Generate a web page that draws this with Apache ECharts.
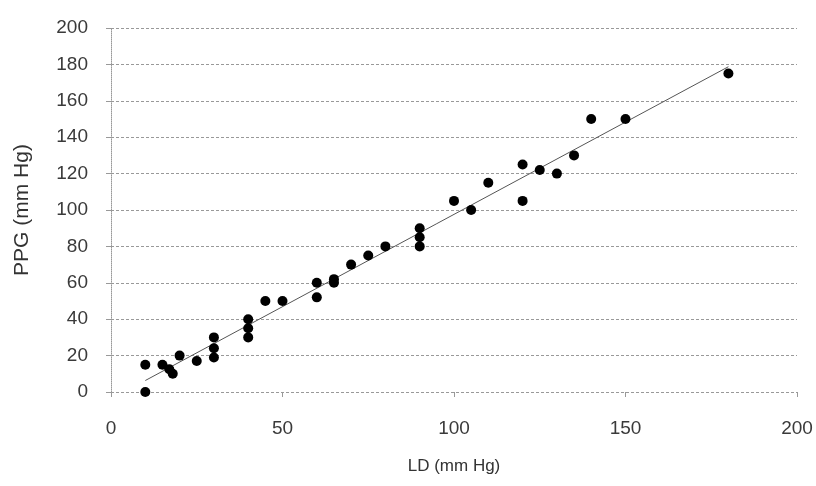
<!DOCTYPE html>
<html>
<head>
<meta charset="utf-8">
<script src="https://cdn.jsdelivr.net/npm/echarts@6/dist/echarts.min.js"></script>
<style>html,body{margin:0;padding:0;background:#fff}#c{width:816px;height:486px}</style>
</head>
<body>
<div id="c"></div>
<script>
// LD (mm Hg) values
const ld = [10,10,15,17,18,20,25,30,30,30,40,40,40,45,50,60,60,65,65,70,75,80,90,90,90,100,105,110,120,120,125,130,135,140,150,180];
// PPG (mm Hg) values
const ppg = [0,15,15,12.5,10,20,17,30,24,19,40,35,30,50,50,60,52,62,60,70,75,80,90,85,80,105,100,115,125,105,122,120,130,150,150,175];
const xTicks = [0,50,100,150,200];
const yTicks = [0,20,40,60,80,100,120,140,160,180,200];

const pts = ld.map((x,i)=>[x,ppg[i]]);
// least-squares trend line
const n = ld.length;
const mx = ld.reduce((a,b)=>a+b,0)/n, my = ppg.reduce((a,b)=>a+b,0)/n;
let sxy=0,sxx=0;
for(let i=0;i<n;i++){sxy+=(ld[i]-mx)*(ppg[i]-my);sxx+=(ld[i]-mx)*(ld[i]-mx);}
const slope=sxy/sxx, icpt=my-slope*mx;
const xmin=Math.min(...ld), xmax=Math.max(...ld);
const trend=[[xmin,icpt+slope*xmin],[xmax,icpt+slope*xmax]];

const chart = echarts.init(document.getElementById('c'));
const font = 'Liberation Sans, Arial, sans-serif';
chart.setOption({
  animation:false,
  grid:{left:111,right:19,top:28,bottom:94},
  xAxis:{
    type:'value',min:xTicks[0],max:xTicks[xTicks.length-1],interval:50,
    name:'LD (mm Hg)',nameLocation:'middle',nameGap:66,
    nameTextStyle:{color:'#333',fontSize:17,fontFamily:font},
    axisLine:{show:false},
    axisTick:{show:true,length:5,lineStyle:{color:'#999'}},
    axisLabel:{color:'#3a3a3a',fontSize:19,fontFamily:font,margin:27},
    splitLine:{show:false}
  },
  yAxis:{
    type:'value',min:yTicks[0],max:yTicks[yTicks.length-1],interval:20,
    name:'PPG (mm Hg)',nameLocation:'middle',nameGap:78,
    nameTextStyle:{color:'#333',fontSize:21,fontFamily:font},
    axisLine:{show:true,lineStyle:{color:'#999',type:'dotted'}},
    axisTick:{show:true,length:5,lineStyle:{color:'#999'}},
    axisLabel:{color:'#3a3a3a',fontSize:19,fontFamily:font,margin:23},
    splitLine:{show:true,lineStyle:{color:'#999',type:[3,2],width:1}}
  },
  series:[
    {type:'line',data:trend,symbol:'none',lineStyle:{color:'#555',width:1},z:1},
    {type:'scatter',data:pts,symbolSize:10,itemStyle:{color:'#000',opacity:1},z:2}
  ]
});
</script>
</body>
</html>
